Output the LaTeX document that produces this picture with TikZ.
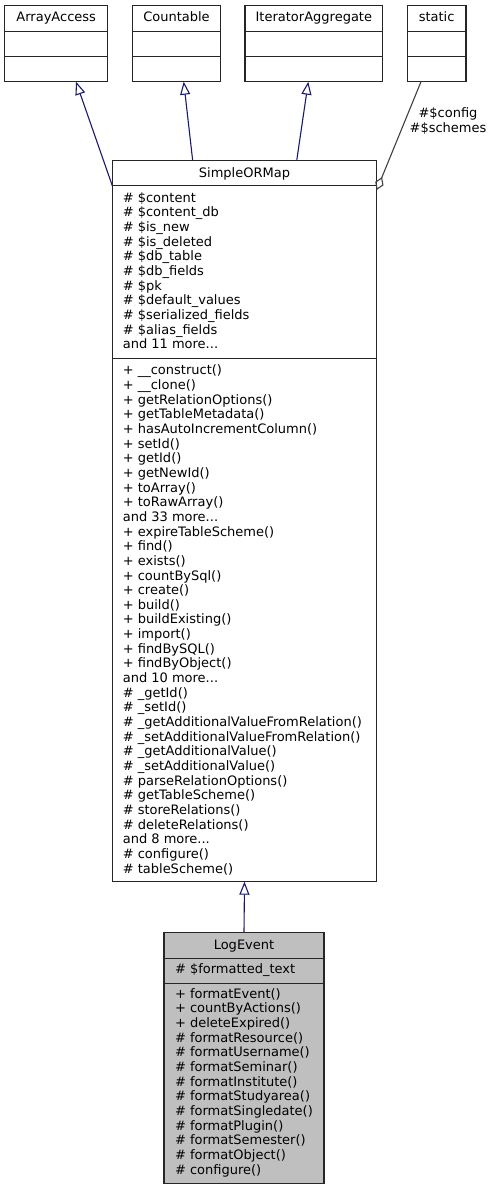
\documentclass[tikz,border=0pt]{standalone}
\usepackage{fontspec}
\setmainfont{DejaVu Sans}
\usetikzlibrary{arrows.meta,calc}
\definecolor{edgeblue}{HTML}{191970}
\definecolor{edgegray}{HTML}{404040}
\definecolor{boxline}{HTML}{262626}
\definecolor{selfill}{HTML}{BFBFBF}
\newcommand{\blockof}[1]{\vtop{\baselineskip=14.65pt\lineskiplimit=-20pt\lineskip=0pt #1}}
\newcommand{\rowof}[1]{\hbox{\strut #1}}
\begin{document}
\begin{tikzpicture}[x=1pt,y=-1pt,
  box/.style={draw=boxline, line width=1.1pt, outer sep=0pt, inner sep=0pt, anchor=north west},
  sepline/.style={draw=boxline, line width=1.1pt},
  txt/.style={inner sep=0pt, outer sep=0pt, anchor=base west, font=\fontsize{13}{14.65}\selectfont},
  ttl/.style={inner sep=0pt, outer sep=0pt, anchor=base, font=\fontsize{13}{14.65}\selectfont},
  inherit/.style={draw=edgeblue, line width=1.1pt, -{Triangle[open, length=13pt, width=10pt]}},
  aggr/.style={draw=edgegray, line width=1.1pt, {Diamond[open, length=14pt, width=9pt]}-}]
\useasboundingbox (0,0) rectangle (491,1191);

% ---------- top classes ----------
\node[box, minimum width=103pt, minimum height=76pt] (aa) at (4.7,5.7) {};
\node[box, minimum width=87.6pt, minimum height=76pt] (ct) at (132.7,5.7) {};
\node[box, minimum width=137.7pt, minimum height=76pt] (ia) at (245,5.7) {};
\node[box, minimum width=58.7pt, minimum height=76pt] (st) at (407.3,5.7) {};
\foreach \n in {aa,ct,ia,st}{
  \draw[sepline] ($(\n.north west)+(0,26)$) -- ($(\n.north east)+(0,26)$);
  \draw[sepline] ($(\n.north west)+(0,51)$) -- ($(\n.north east)+(0,51)$);
}
\node[ttl] (aa-t) at ($(aa.north)+(0,16.2)$) {ArrayAccess};
\node[ttl] (ct-t) at ($(ct.north)+(0,16.2)$) {Countable};
\node[ttl] (ia-t) at ($(ia.north)+(0,16.2)$) {IteratorAggregate};
\node[ttl] (st-t) at ($(st.north)+(0,16.2)$) {static};

% ---------- SimpleORMap ----------
\node[box, minimum width=264.4pt, minimum height=721pt] (sorm) at (112.3,160.7) {};
\draw[sepline] ($(sorm.north west)+(0,25)$) -- ($(sorm.north east)+(0,25)$);
\draw[sepline] ($(sorm.north west)+(0,197.6)$) -- ($(sorm.north east)+(0,197.6)$);
\node[ttl] (sorm-t) at ($(sorm.north)+(0,16.6)$) {SimpleORMap};
\node[txt] (sorm-a) at ($(sorm.north west)+(10.5,41.6)$) {\blockof{%
\rowof{\# \$content}
\rowof{\# \$content\_db}
\rowof{\# \$is\_new}
\rowof{\# \$is\_deleted}
\rowof{\# \$db\_table}
\rowof{\# \$db\_fields}
\rowof{\# \$pk}
\rowof{\# \$default\_values}
\rowof{\# \$serialized\_fields}
\rowof{\# \$alias\_fields}
\rowof{and 11 more...}}};
\node[txt] (sorm-m) at ($(sorm.north west)+(10.5,214.2)$) {\blockof{%
\rowof{+ \_\_construct()}
\rowof{+ \_\_clone()}
\rowof{+ getRelationOptions()}
\rowof{+ getTableMetadata()}
\rowof{+ hasAutoIncrementColumn()}
\rowof{+ setId()}
\rowof{+ getId()}
\rowof{+ getNewId()}
\rowof{+ toArray()}
\rowof{+ toRawArray()}
\rowof{and 33 more...}
\rowof{+ expireTableScheme()}
\rowof{+ find()}
\rowof{+ exists()}
\rowof{+ countBySql()}
\rowof{+ create()}
\rowof{+ build()}
\rowof{+ buildExisting()}
\rowof{+ import()}
\rowof{+ findBySQL()}
\rowof{+ findByObject()}
\rowof{and 10 more...}
\rowof{\# \_getId()}
\rowof{\# \_setId()}
\rowof{\# \_getAdditionalValueFromRelation()}
\rowof{\# \_setAdditionalValueFromRelation()}
\rowof{\# \_getAdditionalValue()}
\rowof{\# \_setAdditionalValue()}
\rowof{\# parseRelationOptions()}
\rowof{\# getTableScheme()}
\rowof{\# storeRelations()}
\rowof{\# deleteRelations()}
\rowof{and 8 more...}
\rowof{\# configure()}
\rowof{\# tableScheme()}}};

% ---------- LogEvent ----------
\node[box, fill=selfill, minimum width=160pt, minimum height=251pt] (le) at (164,932.3) {};
\draw[sepline] ($(le.north west)+(0,26)$) -- ($(le.north east)+(0,26)$);
\draw[sepline] ($(le.north west)+(0,51)$) -- ($(le.north east)+(0,51)$);
\node[ttl] (le-t) at ($(le.north)+(0,16.7)$) {LogEvent};
\node[txt] (le-a) at ($(le.north west)+(11,41)$) {\blockof{\rowof{\# \$formatted\_text}}};
\node[txt] (le-m) at ($(le.north west)+(11,66)$) {\blockof{%
\rowof{+ formatEvent()}
\rowof{+ countByActions()}
\rowof{+ deleteExpired()}
\rowof{\# formatResource()}
\rowof{\# formatUsername()}
\rowof{\# formatSeminar()}
\rowof{\# formatInstitute()}
\rowof{\# formatStudyarea()}
\rowof{\# formatSingledate()}
\rowof{\# formatPlugin()}
\rowof{\# formatSemester()}
\rowof{\# formatObject()}
\rowof{\# configure()}}};

% ---------- connectors ----------
\draw[inherit] ($(sorm.north west)+(0,25)$) -- ($(aa.south west)+(71.3,0)$);
\draw[inherit] ($(sorm.north west)+(80.4,0)$) -- ($(ct.south west)+(51,0)$);
\draw[inherit] ($(sorm.north west)+(184.4,0)$) -- ($(ia.south west)+(63.3,0)$);
\draw[inherit] (le.north) -- (sorm.south);
\draw[aggr] ($(sorm.north east)+(0,29.3)$) -- ($(st.south west)+(13.7,0)$);
\node[inner sep=0pt, anchor=base, font=\fontsize{13}{15}\selectfont] (lbl) at (448,117.3)
  {\vtop{\baselineskip=15pt\hbox to 90pt{\hss\#\$config\hss}\hbox to 90pt{\hss\#\$schemes\hss}}};
\end{tikzpicture}
\end{document}
